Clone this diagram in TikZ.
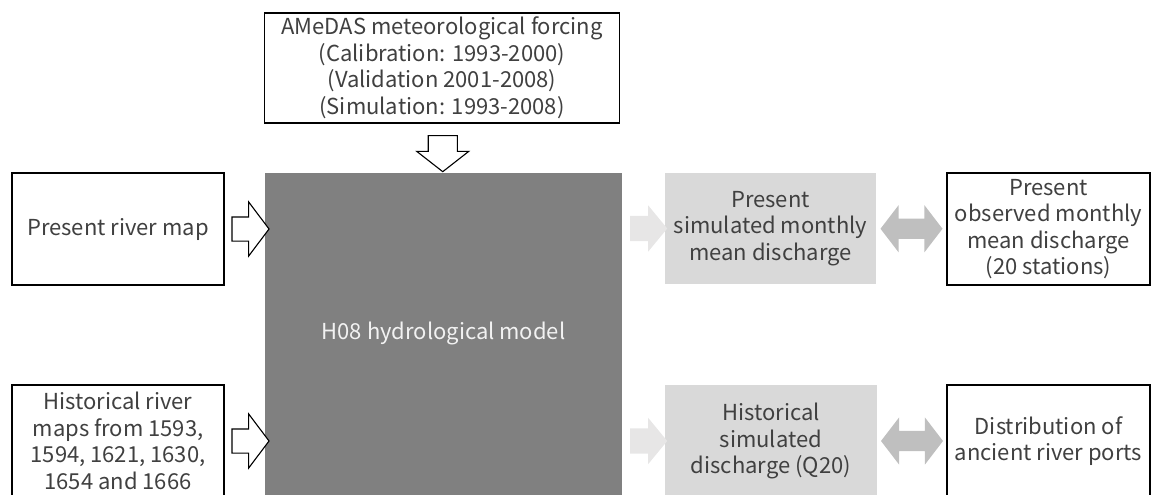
\documentclass[tikz,border=0pt]{standalone}
\usepackage{fontspec}
\setmainfont{Noto Sans CJK JP}
\usepackage{xcolor}
\usepackage{tikz}
\usetikzlibrary{shapes,arrows,positioning,calc}

\definecolor{modelgray}{HTML}{808080}
\definecolor{simgray}{HTML}{D9D9D9}
\definecolor{flowgray}{HTML}{E7E6E6}
\definecolor{comparegray}{HTML}{BFBFBF}
\definecolor{modeltext}{HTML}{F2F2F2}

\begin{document}
\begin{tikzpicture}[
        x=1pt, y=-1pt,
        txt/.style={font=\fontsize{22}{26.5}\selectfont, text=black!75, align=center, inner sep=0pt, outer sep=0pt},
        inbox/.style={txt, draw=black, line width=1.3pt, fill=white},
        simbox/.style={txt, fill=simgray},
        modelbox/.style={txt, fill=modelgray, text=modeltext},
        inarrow/.style={single arrow, draw=black, line width=1.1pt, fill=white, inner xsep=0pt, inner ysep=11.5pt, outer sep=0pt, minimum height=37pt, single arrow head extend=15pt, single arrow tip angle=106},
        outarrow/.style={single arrow, fill=flowgray, inner xsep=0pt, inner ysep=12.5pt, outer sep=0pt, minimum height=37pt, single arrow head extend=10.5pt, single arrow tip angle=101},
        comparrow/.style={double arrow, fill=comparegray, inner xsep=0pt, inner ysep=10pt, outer sep=0pt, minimum height=62pt, double arrow head extend=13.5pt, double arrow tip angle=105}
    ]
    \useasboundingbox (0,0) rectangle (1151,495);

    \node[inbox, minimum width=355pt, minimum height=110pt] (forcing) at (442,68)
        {AMeDAS meteorological forcing\\(Calibration: 1993-2000)\\(Validation 2001-2008)\\(Simulation: 1993-2008)};

    \node[modelbox, minimum width=357pt, minimum height=324pt] (model) at (443.5,335) {\raisebox{8pt}{H08 hydrological model}};

    \node[inbox, minimum width=212pt, minimum height=112pt] (pmap) at (118,229) {Present river map};
    \node[inbox, minimum width=212pt, minimum height=112pt] (hmap) at (118,441)
        {Historical river\\maps from 1593,\\1594, 1621, 1630,\\1654 and 1666};

    \node[simbox, minimum width=211pt, minimum height=111pt] (psim) at (770.5,228.5)
        {Present\\simulated monthly\\mean discharge};
    \node[simbox, minimum width=212pt, minimum height=112pt] (hsim) at (771,441)
        {Historical\\simulated\\discharge (Q20)};

    \node[inbox, minimum width=203pt, minimum height=112pt] (pobs) at (1048.5,229)
        {Present\\observed monthly\\mean discharge\\(20 stations)};
    \node[inbox, minimum width=203pt, minimum height=112pt] (ports) at (1048.5,441)
        {Distribution of\\ancient river ports};

    \node[inarrow, rotate=-90, minimum height=36pt, inner ysep=14pt, single arrow head extend=11.5pt, single arrow tip angle=104] (forcingarrow)
        at ($(forcing.south)!.5!(model.north)$) {};
    \node[inarrow] (pmaparrow) at ($(pmap.east)!.5!(model.west |- pmap.east)+(1.5,0)$) {};
    \node[inarrow] (hmaparrow) at ($(hmap.east)!.5!(model.west |- hmap.east)+(1.5,0)$) {};

    \node[outarrow] (psimarrow) at ($(model.east |- psim.west)!.5!(psim.west)$) {};
    \node[outarrow] (hsimarrow) at ($(model.east |- hsim.west)!.5!(hsim.west)$) {};

    \node[comparrow] (pcompare) at ($(psim.east)!.5!(pobs.west)$) {};
    \node[comparrow] (hcompare) at ($(hsim.east)!.5!(ports.west)$) {};
\end{tikzpicture}
\end{document}
